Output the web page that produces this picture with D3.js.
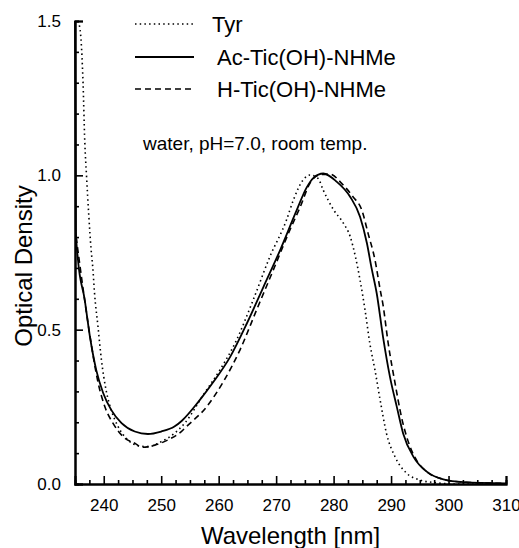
<!DOCTYPE html>
<html>
<head>
<meta charset="utf-8">
<script src="https://cdn.jsdelivr.net/npm/d3@7"></script>
<style>
  html, body { margin: 0; padding: 0; background: #fff; }
  svg { display: block; font-family: "Liberation Sans", Arial, sans-serif; }
</style>
</head>
<body>
<div id="chart"></div>
<script>
// =========================
// DATA  [wavelength nm, optical density]
// =========================
const tyr = [
  [235.5, 1.50], [235.9, 1.47], [236.4, 1.30], [236.7, 1.11], [237.0, 1.00],
  [237.4, 0.87], [237.8, 0.76], [238.1, 0.70], [238.4, 0.618], [239.0, 0.51],
  [239.6, 0.402], [240.4, 0.305], [241.3, 0.240], [242.5, 0.186], [244.2, 0.143],
  [246.2, 0.123], [247.7, 0.121], [250.0, 0.137], [252.3, 0.164], [254.1, 0.197],
  [257.3, 0.288], [260.2, 0.369], [263.1, 0.466], [266.0, 0.596], [268.9, 0.736],
  [271.8, 0.855], [273.0, 0.92], [274.7, 0.985], [275.9, 1.001], [277.3, 0.990],
  [278.2, 0.952], [280.0, 0.888], [281.7, 0.845], [282.9, 0.801], [283.8, 0.736],
  [284.6, 0.661], [285.5, 0.56], [286.3, 0.456], [287.2, 0.369], [288.1, 0.272],
  [289.2, 0.164], [290.7, 0.088], [292.7, 0.035], [295.0, 0.013], [297.9, 0.004],
  [301.0, 0.0], [310.0, 0.0]
];

const acTic = [
  [235.0, 1.50], [235.15, 0.82], [235.5, 0.73], [236.7, 0.596], [237.6, 0.477],
  [238.7, 0.369], [239.9, 0.295], [241.3, 0.240], [243.1, 0.197], [245.4, 0.170],
  [247.7, 0.162], [250.0, 0.170], [252.3, 0.186], [253.6, 0.205], [256.5, 0.267],
  [259.1, 0.331], [262.0, 0.412], [264.9, 0.520], [267.8, 0.639], [270.7, 0.758],
  [273.6, 0.888], [275.3, 0.960], [276.5, 0.992], [278.2, 1.006], [280.5, 0.980],
  [282.9, 0.930], [284.6, 0.866], [285.8, 0.780], [286.6, 0.700], [287.5, 0.618],
  [288.6, 0.477], [289.8, 0.348], [291.0, 0.250], [292.1, 0.164], [293.9, 0.088],
  [296.2, 0.040], [299.1, 0.015], [302.6, 0.006], [310.0, 0.002]
];

const hTic = [
  [235.2, 0.80], [236.5, 0.62], [237.6, 0.48], [239.0, 0.33], [240.2, 0.25],
  [241.6, 0.197], [243.4, 0.153], [245.4, 0.132], [246.8, 0.119], [248.9, 0.126],
  [251.2, 0.143], [253.5, 0.170], [254.4, 0.186], [257.9, 0.250], [260.8, 0.331],
  [263.7, 0.434], [266.6, 0.564], [269.5, 0.693], [272.4, 0.823], [274.2, 0.898],
  [275.9, 0.975], [277.6, 1.002], [279.4, 1.004], [281.4, 0.974], [283.4, 0.930],
  [284.9, 0.888], [286.0, 0.812], [287.2, 0.726], [288.1, 0.63], [288.6, 0.58],
  [289.5, 0.456], [290.7, 0.326], [291.8, 0.218], [293.3, 0.121], [294.5, 0.075],
  [296.2, 0.040], [299.1, 0.015], [302.6, 0.006], [310.0, 0.002]
];

const xMajor = [240, 250, 260, 270, 280, 290, 300, 310];
const yMajor = [0.0, 0.5, 1.0, 1.5];
const legendLabels = ["Tyr", "Ac-Tic(OH)-NHMe", "H-Tic(OH)-NHMe"];
const note = "water, pH=7.0, room temp.";

// =========================
// SETUP
// =========================
const width = 519;
const height = 548;
const m = { left: 75, right: 506, top: 21, bottom: 484 };

const svg = d3.select("#chart")
  .append("svg")
  .attr("width", width)
  .attr("height", height);

const x = d3.scaleLinear().domain([235, 310]).range([m.left, m.right]);
const y = d3.scaleLinear().domain([0, 1.5]).range([m.bottom, m.top]);

// =========================
// AXES (ticks point inward)
// =========================
const xMinor = d3.range(237.5, 310.01, 2.5).filter(v => !xMajor.includes(v));
const yMinor = d3.range(0.1, 1.5, 0.1).map(v => +v.toFixed(1)).filter(v => !yMajor.includes(v));

const xAxis = svg.append("g").attr("transform", `translate(0,${m.bottom})`);
xAxis.append("g").call(d3.axisBottom(x).tickValues(xMinor).tickSize(-4).tickFormat(""));
xAxis.append("g").call(d3.axisBottom(x).tickValues(xMajor).tickSize(-8).tickPadding(15).tickFormat(d3.format("d")));

const yAxis = svg.append("g").attr("transform", `translate(${m.left},0)`);
yAxis.append("g").call(d3.axisLeft(y).tickValues(yMinor).tickSize(-4).tickFormat(""));
yAxis.append("g").call(d3.axisLeft(y).tickValues(yMajor).tickSize(-8).tickPadding(14).tickFormat(d3.format(".1f")));

svg.selectAll(".domain").attr("stroke", "#000").attr("stroke-width", 2);
svg.selectAll(".tick line").attr("stroke", "#000").attr("stroke-width", 1.6);
svg.selectAll(".tick text").attr("fill", "#000").style("font-size", "17px");

// =========================
// LINES
// =========================
const line = d3.line()
  .x(d => x(d[0]))
  .y(d => y(d[1]))
  .curve(d3.curveMonotoneX);

const series = [
  { data: tyr, dash: "1.5,3.2", width: 1.6 },
  { data: acTic, dash: null, width: 1.8 },
  { data: hTic, dash: "6,4", width: 1.6 }
];

series.forEach(s => {
  svg.append("path")
    .datum(s.data)
    .attr("d", line)
    .attr("fill", "none")
    .attr("stroke", "#000")
    .attr("stroke-width", s.width)
    .attr("stroke-dasharray", s.dash);
});

// =========================
// LEGEND
// =========================
const legendY = [24, 57, 89];
const legendTextX = [212, 217, 217];
series.forEach((s, i) => {
  svg.append("line")
    .attr("x1", 135).attr("x2", 194)
    .attr("y1", legendY[i]).attr("y2", legendY[i])
    .attr("stroke", "#000")
    .attr("stroke-width", s.width)
    .attr("stroke-dasharray", s.dash);

  svg.append("text")
    .attr("x", legendTextX[i])
    .attr("y", legendY[i] + 8)
    .style("font-size", "22px")
    .text(legendLabels[i]);
});

svg.append("text")
  .attr("x", 143)
  .attr("y", 150)
  .style("font-size", "19px")
  .text(note);

// =========================
// AXIS TITLES
// =========================
svg.append("text")
  .attr("x", (m.left + m.right) / 2)
  .attr("y", 544)
  .attr("text-anchor", "middle")
  .style("font-size", "24px")
  .text("Wavelength [nm]");

svg.append("text")
  .attr("transform", `translate(32,266) rotate(-90)`)
  .attr("text-anchor", "middle")
  .style("font-size", "24px")
  .text("Optical Density");
</script>
</body>
</html>
